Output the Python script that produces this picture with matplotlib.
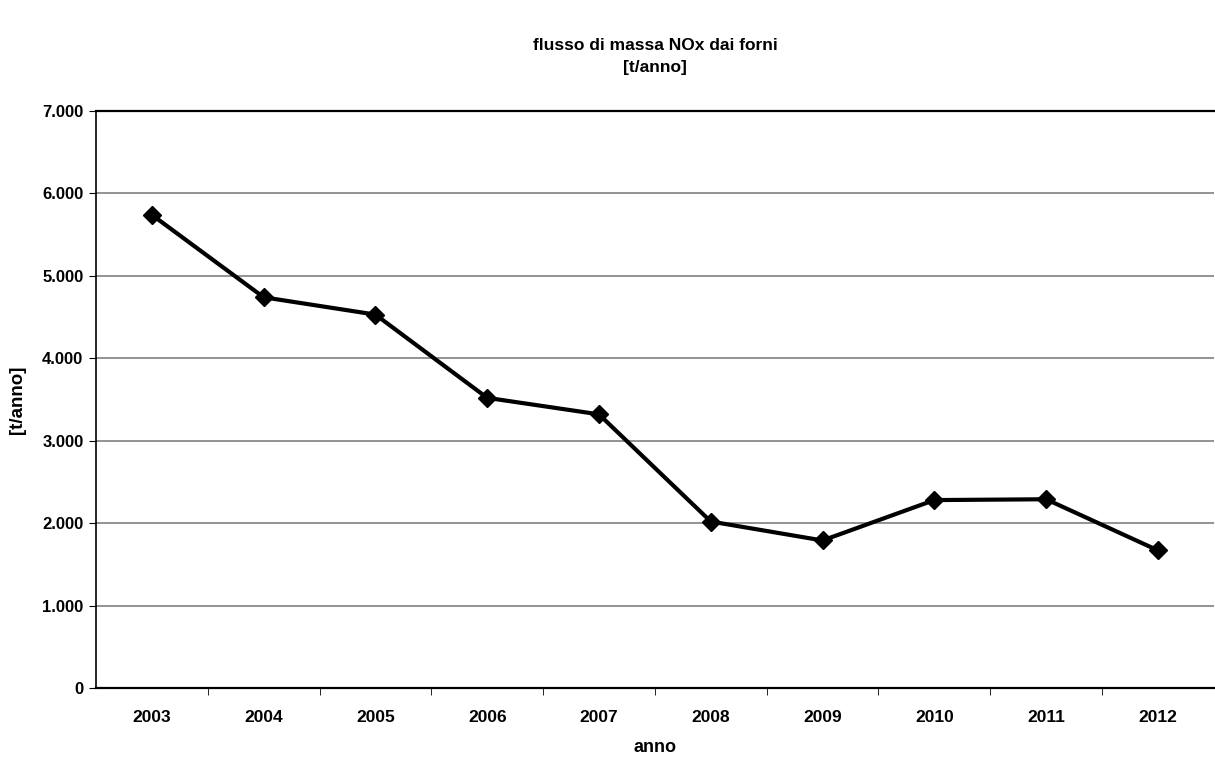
import matplotlib.pyplot as plt

anni = ["2003", "2004", "2005", "2006", "2007", "2008", "2009", "2010", "2011", "2012"]
nox = [5740, 4740, 4530, 3520, 3320, 2020, 1790, 2280, 2290, 1670]
yticks = [0, 1000, 2000, 3000, 4000, 5000, 6000, 7000]
ytick_labels = ["0", "1.000", "2.000", "3.000", "4.000", "5.000", "6.000", "7.000"]

plt.rcParams["font.family"] = ["Liberation Sans", "DejaVu Sans"]
plt.rcParams["font.weight"] = "bold"

fig = plt.figure(figsize=(12.15, 7.58), dpi=100)
ax = fig.add_axes([0.079, 0.0923, 0.920, 0.7613])

x = range(len(anni))
ax.plot(x, nox, color="black", linewidth=3, marker="D", markersize=9,
        markerfacecolor="black", markeredgecolor="black", zorder=3)

ax.set_xlim(-0.5, len(anni) - 0.5)
ax.set_ylim(0, 7000)

ax.set_yticks(yticks)
ax.set_yticklabels(ytick_labels, fontsize=12, fontweight="bold")
ax.set_xticks(list(x))
ax.set_xticklabels(anni, fontsize=12.5, fontweight="bold")
ax.tick_params(axis="x", length=0, pad=16)
ax.set_xticks([i + 0.5 for i in range(len(anni) - 1)], minor=True)
ax.tick_params(axis="x", which="minor", length=5, direction="out", color="black")
ax.tick_params(axis="y", length=5, direction="out", pad=4)

for v in yticks[1:-1]:
    ax.axhline(v, color="#808080", linewidth=1.2, zorder=1)

ax.spines["top"].set_linewidth(1.6)
ax.spines["left"].set_linewidth(1.2)
ax.spines["bottom"].set_linewidth(1.6)
ax.spines["right"].set_visible(False)

ax.set_xlabel("anno", fontsize=13, fontweight="bold", labelpad=10)
ax.set_ylabel("[t/anno]", fontsize=13.5, fontweight="bold", labelpad=12)
ax.set_title("flusso di massa NOx dai forni\n[t/anno]", fontsize=12.5,
             fontweight="bold", pad=28, linespacing=1.55)

fig.savefig("out.png", dpi=100)
